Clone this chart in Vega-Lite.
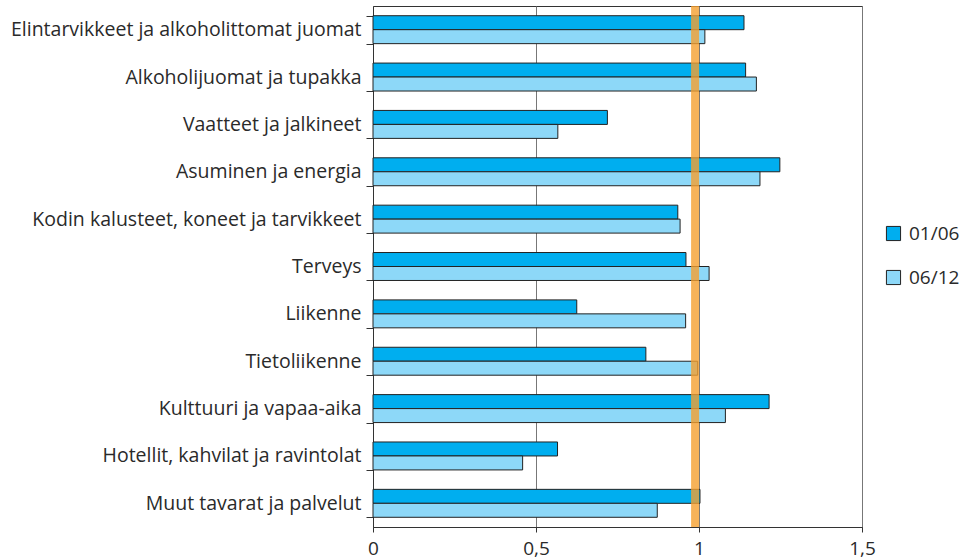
{
  "$schema": "https://vega.github.io/schema/vega-lite/v6.json",
  "autosize": "none",
  "width": 489,
  "height": 521,
  "padding": {"left": 373, "top": 6, "right": 104, "bottom": 33},
  "background": "white",
  "config": {
    "font": "Open Sans",
    "view": {"stroke": "#333", "strokeWidth": 1},
    "axis": {"labelFontSize": 19, "labelColor": "#2a2a2a", "domainColor": "#333", "tickColor": "#333", "title": null}
  },
  "datasets": {
    "bars": [
      {"cat": "Elintarvikkeet ja alkoholittomat juomat", "period": "01/06", "value": 1.138},
      {"cat": "Elintarvikkeet ja alkoholittomat juomat", "period": "06/12", "value": 1.018},
      {"cat": "Alkoholijuomat ja tupakka", "period": "01/06", "value": 1.143},
      {"cat": "Alkoholijuomat ja tupakka", "period": "06/12", "value": 1.176},
      {"cat": "Vaatteet ja jalkineet", "period": "01/06", "value": 0.719},
      {"cat": "Vaatteet ja jalkineet", "period": "06/12", "value": 0.567},
      {"cat": "Asuminen ja energia", "period": "01/06", "value": 1.248},
      {"cat": "Asuminen ja energia", "period": "06/12", "value": 1.187},
      {"cat": "Kodin kalusteet, koneet ja tarvikkeet", "period": "01/06", "value": 0.935},
      {"cat": "Kodin kalusteet, koneet ja tarvikkeet", "period": "06/12", "value": 0.942},
      {"cat": "Terveys", "period": "01/06", "value": 0.96},
      {"cat": "Terveys", "period": "06/12", "value": 1.031},
      {"cat": "Liikenne", "period": "01/06", "value": 0.625},
      {"cat": "Liikenne", "period": "06/12", "value": 0.959},
      {"cat": "Tietoliikenne", "period": "01/06", "value": 0.837},
      {"cat": "Tietoliikenne", "period": "06/12", "value": 0.996},
      {"cat": "Kulttuuri ja vapaa-aika", "period": "01/06", "value": 1.215},
      {"cat": "Kulttuuri ja vapaa-aika", "period": "06/12", "value": 1.081},
      {"cat": "Hotellit, kahvilat ja ravintolat", "period": "01/06", "value": 0.566},
      {"cat": "Hotellit, kahvilat ja ravintolat", "period": "06/12", "value": 0.459},
      {"cat": "Muut tavarat ja palvelut", "period": "01/06", "value": 1.003},
      {"cat": "Muut tavarat ja palvelut", "period": "06/12", "value": 0.872}
    ],
    "ref": [{"ref": 0.988}]
  },
  "layer": [
    {
      "data": {"name": "bars"},
      "mark": {"type": "bar", "stroke": "#222", "strokeWidth": 1},
      "encoding": {
        "y": {
          "field": "cat", "type": "nominal", "sort": null,
          "scale": {"paddingInner": 0.41, "paddingOuter": 0.205},
          "axis": {"tickBand": "extent", "tickSize": 7, "labelPadding": 5, "labelFontSize": 19.5, "grid": false, "labelLimit": 400}
        },
        "yOffset": {"field": "period", "type": "nominal", "scale": {"paddingInner": 0, "paddingOuter": 0}},
        "x": {
          "field": "value", "type": "quantitative",
          "scale": {"domain": [0, 1.5], "nice": false},
          "axis": {"values": [0, 0.5, 1, 1.5], "labelExpr": "replace(format(datum.value, ''), '.', ',')", "grid": true, "gridColor": "#777", "gridOpacity": 1, "tickSize": 5, "labelPadding": 7, "labelFlush": false}
        },
        "fill": {
          "field": "period", "type": "nominal",
          "scale": {"domain": ["01/06", "06/12"], "range": ["#00aeef", "#8dd8f8"]},
          "legend": {"title": null, "orient": "none", "legendX": 511, "legendY": 218, "symbolType": "square", "symbolSize": 200, "symbolStrokeColor": "#222", "symbolStrokeWidth": 1, "labelFontSize": 19, "labelColor": "#2a2a2a", "rowPadding": 24, "labelOffset": 6}
        }
      }
    },
    {
      "data": {"name": "ref"},
      "mark": {"type": "rule", "color": "#f5a030", "strokeWidth": 8, "opacity": 0.8},
      "encoding": {"x": {"field": "ref", "type": "quantitative"}}
    }
  ]
}
